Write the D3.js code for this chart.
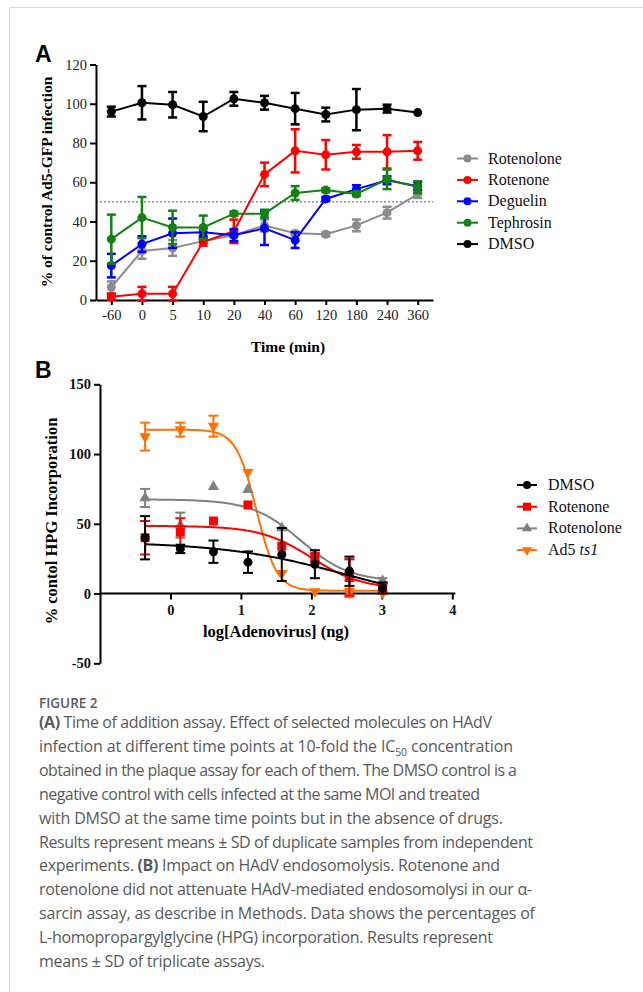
<!DOCTYPE html>
<html><head><meta charset="utf-8">
<script src="https://cdn.jsdelivr.net/npm/d3@7"></script>
<style>html,body{margin:0;padding:0;background:#fff;}svg{display:block;}</style>
</head><body>
<svg id="c" width="643" height="992"></svg>
<script>
// ---------- Panel A data ----------
const timeLabels = ["-60","0","5","10","20","40","60","120","180","240","360"];
const seriesA = ["Rotenolone","Rotenone","Deguelin","Tephrosin","DMSO"];
const colorsA = ["#8c8c8c","#ff0000","#0000ff","#128212","#000000"];
const rotenoloneA = [6.5, 25, 26.5, 30, 33, 38, 34, 33.5, 38, 44.5, 54];
const rotenoloneAErr = [3, 4, 4, 1, 1, 3, 1, 1, 3, 3, 2];
const rotenoneA = [1.7, 3.2, 3.2, 29.7, 35, 64, 76, 74, 75.5, 75.5, 76];
const rotenoneAErr = [1.5, 3.5, 3.5, 2, 6, 6, 11, 7.5, 3.5, 8.5, 4.5];
const deguelinA = [17.5, 28.5, 34, 34.5, 33, 36.5, 30.5, 51.5, 56.5, 61, 58];
const deguelinAErr = [6, 4, 7.5, 2, 3, 8.5, 4, 1, 2, 2, 2];
const tephrosinA = [31, 42, 37, 37, 44, 44, 54.5, 56, 54, 61.5, 57.5];
const tephrosinAErr = [12.5, 10.5, 8.5, 6, 1, 2, 3.5, 1, 1, 5, 3];
const dmsoA = [96, 100.5, 99.5, 93.5, 102.5, 100.5, 97.5, 94.5, 97, 97.5, 95.5];
const dmsoAErr = [2.5, 8.5, 6.5, 7.5, 3.5, 3.5, 8, 3.5, 10.5, 2, 0];
const yTicksA = [0,20,40,60,80,100,120];
const refLineA = 50;

// ---------- Panel B data ----------
const logDose = [-0.36, 0.14, 0.61, 1.10, 1.58, 2.05, 2.54, 3.01];
const seriesB = ["DMSO","Rotenone","Rotenolone","Ad5 ts1"];
const colorsB = ["#000000","#ff0000","#808080","#ff6f00"];
const dmsoB = [40, 32, 30, 22.5, 28, 21, 16, 4];
const dmsoBErr = [15.5, 3, 8, 7.7, 19, 10, 10.5, 4];
const rotenoneB = [40, 44, 52, 63.5, 34, 26, 11.5, 4];
const rotenoneBErr = [12, 10, 0, 0, 0, 3, 13, 3];
const rotenoloneB = [68.5, 49, 76.5, 74.5, 47, 28, 17, 9];
const rotenoloneBErr = [6.5, 9, 0, 0, 0, 0, 8, 2];
const ad5B = [112.5, 117.5, 120, 87, 14.5, 1.5, 0.5, 0.5];
const ad5BErr = [10, 5, 7.5, 0, 0, 0, 3, 0];
// fitted 4-parameter logistic curves (DMSO, Rotenone, Rotenolone, Ad5 ts1)
const fitTop = [37, 48.5, 67.5, 117.5];
const fitBottom = [-10, 3, 8.5, 2];
const fitLogEC50 = [2.5, 2.0, 1.85, 1.22];
const fitHill = [0.5, 1.2, 1.25, 3];
const xTicksB = [0,1,2,3,4];
const yTicksB = [-50,0,50,100,150];

const serif = "'Liberation Serif','Times New Roman',serif";
const svg = d3.select("#c");
const hyph = v => String(v).replace("\u2212","-");

// frame
svg.append("line").attr("x1",9.5).attr("x2",9.5).attr("y1",7.5).attr("y2",992).attr("stroke","#d9d9d9");
svg.append("line").attr("x1",9.5).attr("x2",643).attr("y1",7.5).attr("y2",7.5).attr("stroke","#d9d9d9");

// ================= Panel A =================
const xA = d3.scalePoint().domain(timeLabels).range([96,433]).padding(0.5);
const yA = d3.scaleLinear().domain([0,120]).range([300,64.5]);
const gA = svg.append("g");

svg.append("text").attr("x",35).attr("y",62).text("A")
  .attr("font-family","'Liberation Sans',Arial,sans-serif").attr("font-weight","bold").attr("font-size",23);

gA.append("line").attr("x1",96).attr("x2",433).attr("y1",yA(refLineA)).attr("y2",yA(refLineA))
  .attr("stroke","#555").attr("stroke-width",1).attr("stroke-dasharray","2,2");

const axLA = gA.append("g").attr("transform","translate(96,0)")
  .call(d3.axisLeft(yA).tickValues(yTicksA).tickFormat(d3.format("d")).tickSize(6).tickSizeOuter(0).tickPadding(3));
const axBA = gA.append("g").attr("transform","translate(0,300)")
  .call(d3.axisBottom(xA).tickSize(5).tickSizeOuter(0).tickPadding(5));
[axLA,axBA].forEach(a=>{
  a.selectAll("path,line").attr("stroke","#000").attr("stroke-width",2);
  a.selectAll("text").attr("font-family",serif).attr("font-size",14.5).attr("fill","#222");
});

gA.append("text").attr("x",288).attr("y",352).attr("text-anchor","middle")
  .attr("font-family",serif).attr("font-weight","bold").attr("font-size",15.5).text("Time (min)");
gA.append("text").attr("transform","translate(52,182) rotate(-90)").attr("text-anchor","middle")
  .attr("font-family",serif).attr("font-weight","bold").attr("font-size",15.5).text("% of control Ad5-GFP infection");

const dataA = [
  [rotenoloneA, rotenoloneAErr],[rotenoneA, rotenoneAErr],[deguelinA, deguelinAErr],
  [tephrosinA, tephrosinAErr],[dmsoA, dmsoAErr]];
dataA.forEach((d,si)=>{
  const col = colorsA[si];
  const pts = timeLabels.map((t,i)=>({t, v:d[0][i], e:d[1][i]}));
  const g = gA.append("g");
  g.append("path").datum(pts)
    .attr("d", d3.line().x(p=>xA(p.t)).y(p=>yA(p.v)))
    .attr("fill","none").attr("stroke",col).attr("stroke-width",2);
  pts.filter(p=>p.e>0).forEach(p=>{
    const x = xA(p.t);
    g.append("line").attr("x1",x).attr("x2",x).attr("y1",yA(p.v-p.e)).attr("y2",yA(p.v+p.e)).attr("stroke",col).attr("stroke-width",2.5);
    [p.v-p.e,p.v+p.e].forEach(v=>g.append("line").attr("x1",x-4.5).attr("x2",x+4.5).attr("y1",yA(v)).attr("y2",yA(v)).attr("stroke",col).attr("stroke-width",2.5));
  });
  g.selectAll("circle").data(pts).join("circle")
    .attr("cx",p=>xA(p.t)).attr("cy",p=>yA(p.v)).attr("r",4.5).attr("fill",col);
});

seriesA.forEach((s,i)=>{
  const y = 158.5 + i*21.4;
  svg.append("line").attr("x1",457).attr("x2",478).attr("y1",y).attr("y2",y).attr("stroke",colorsA[i]).attr("stroke-width",2);
  svg.append("circle").attr("cx",467.5).attr("cy",y).attr("r",4).attr("fill",colorsA[i]);
  svg.append("text").attr("x",488).attr("y",y+5).text(s)
    .attr("font-family",serif).attr("font-size",16).attr("fill","#111");
});

// ================= Panel B =================
const xB = d3.scaleLinear().domain([-1,4]).range([100,452.3]);
const yB = d3.scaleLinear().domain([-50,150]).range([663.3,384.3]);
const gB = svg.append("g");

svg.append("text").attr("x",35).attr("y",377.5).text("B")
  .attr("font-family","'Liberation Sans',Arial,sans-serif").attr("font-weight","bold").attr("font-size",23);

const axLB = gB.append("g").attr("transform",`translate(${xB(-1)},0)`)
  .call(d3.axisLeft(yB).tickValues(yTicksB).tickFormat(v=>hyph(d3.format("d")(v))).tickSize(6).tickSizeOuter(0).tickPadding(3));
const axXB = gB.append("g").attr("transform",`translate(0,${yB(0)})`)
  .call(d3.axisBottom(xB).tickValues(xTicksB).tickFormat(d3.format("d")).tickSize(6).tickSizeOuter(0).tickPadding(5));
axXB.select(".domain").attr("d",`M${xB(-1)},0H${xB(4)+3}`);
[axLB,axXB].forEach(a=>{
  a.selectAll("path,line").attr("stroke","#000").attr("stroke-width",2);
  a.selectAll("text").attr("font-family",serif).attr("font-weight","bold").attr("font-size",14.5).attr("fill","#111");
});

gB.append("text").attr("x",276).attr("y",637).attr("text-anchor","middle")
  .attr("font-family",serif).attr("font-weight","bold").attr("font-size",16.5).text("log[Adenovirus] (ng)");
gB.append("text").attr("transform","translate(57,521) rotate(-90)").attr("text-anchor","middle")
  .attr("font-family",serif).attr("font-weight","bold").attr("font-size",16.5).text("% contol HPG Incorporation");

const dataB = [[dmsoB,dmsoBErr],[rotenoneB,rotenoneBErr],[rotenoloneB,rotenoloneBErr],[ad5B,ad5BErr]];
const symB = [d3.symbolCircle, d3.symbolSquare, d3.symbolTriangle, d3.symbolTriangle];
const symSize = [64, 81, 56, 56];
const symRot = [0,0,0,180];
const drawOrder = [3,2,1,0];
const xMin = d3.min(logDose), xMax = d3.max(logDose);
drawOrder.forEach(si=>{
  const col = colorsB[si];
  const g = gB.append("g");
  const f = x => fitBottom[si] + (fitTop[si]-fitBottom[si])/(1+Math.pow(10,(x-fitLogEC50[si])*fitHill[si]));
  const xs = d3.range(0,201).map(k=>xMin + (xMax-xMin)*k/200);
  g.append("path").datum(xs).attr("d",d3.line().x(x=>xB(x)).y(x=>yB(f(x))))
    .attr("fill","none").attr("stroke",col).attr("stroke-width",2);
  const pts = logDose.map((x,i)=>({x, v:dataB[si][0][i], e:dataB[si][1][i]}));
  pts.filter(p=>p.e>0).forEach(p=>{
    const x = xB(p.x);
    g.append("line").attr("x1",x).attr("x2",x).attr("y1",yB(p.v-p.e)).attr("y2",yB(p.v+p.e)).attr("stroke",col).attr("stroke-width",2);
    [p.v-p.e,p.v+p.e].forEach(v=>g.append("line").attr("x1",x-5).attr("x2",x+5).attr("y1",yB(v)).attr("y2",yB(v)).attr("stroke",col).attr("stroke-width",2));
  });
  g.selectAll("path.m").data(pts).join("path").attr("class","m")
    .attr("d", d3.symbol().type(symB[si]).size(symSize[si]))
    .attr("transform",p=>`translate(${xB(p.x)},${yB(p.v)}) rotate(${symRot[si]})`)
    .attr("fill",col);
});

seriesB.forEach((s,i)=>{
  const y = 485 + i*21.7;
  svg.append("line").attr("x1",517).attr("x2",537).attr("y1",y).attr("y2",y).attr("stroke",colorsB[i]).attr("stroke-width",2);
  svg.append("path").attr("d",d3.symbol().type(symB[i]).size(symSize[i]*0.8))
    .attr("transform",`translate(527,${y}) rotate(${symRot[i]})`).attr("fill",colorsB[i]);
  const t = svg.append("text").attr("x",548).attr("y",y+5)
    .attr("font-family",serif).attr("font-size",16).attr("fill","#111");
  if (s === "Ad5 ts1") {
    t.append("tspan").text("Ad5 ");
    t.append("tspan").attr("font-style","italic").text("ts1");
  } else t.text(s);
});

// ================= Caption =================
const sans = "'Open Sans','Noto Sans',sans-serif";
svg.append("text").attr("x",39).attr("y",708).text("FIGURE 2")
  .attr("font-family",sans).attr("font-size",13.5).attr("fill","#5a5a5a").attr("font-weight",600);
const capLines = [
  [["b","(A)"],["n"," Time of addition assay. Effect of selected molecules on HAdV"]],
  [["n","infection at different time points at 10-fold the IC"],["s","50"],["u"," concentration"]],
  [["n","obtained in the plaque assay for each of them. The DMSO control is a"]],
  [["n","negative control with cells infected at the same MOI and treated"]],
  [["n","with DMSO at the same time points but in the absence of drugs."]],
  [["n","Results represent means \u00B1 SD of duplicate samples from independent"]],
  [["n","experiments. "],["b","(B)"],["n"," Impact on HAdV endosomolysis. Rotenone and"]],
  [["n","rotenolone did not attenuate HAdV-mediated endosomolysi in our \u03B1-"]],
  [["n","sarcin assay, as describe in Methods. Data shows the percentages of"]],
  [["n","L-homopropargylglycine (HPG) incorporation. Results represent"]],
  [["n","means \u00B1 SD of triplicate assays."]]
];
const capEnds = [492, 513, 517, 480, 503, 533, 500, 532, 535, 493, 265];
capLines.forEach((parts,i)=>{
  const t = svg.append("text").attr("x",39).attr("y",728 + i*23.9)
    .attr("font-family",sans).attr("font-size",16).attr("fill","#595959")
    .attr("textLength", capEnds[i]-39).attr("lengthAdjust","spacing");
  parts.forEach(([k,s])=>{
    const ts = t.append("tspan").text(s);
    if (k==="b") ts.attr("font-weight","bold");
    if (k==="s") ts.attr("font-size",10.5).attr("dy",4);
    if (k==="u") ts.attr("dy",-4);
  });
});
</script>
</body></html>
